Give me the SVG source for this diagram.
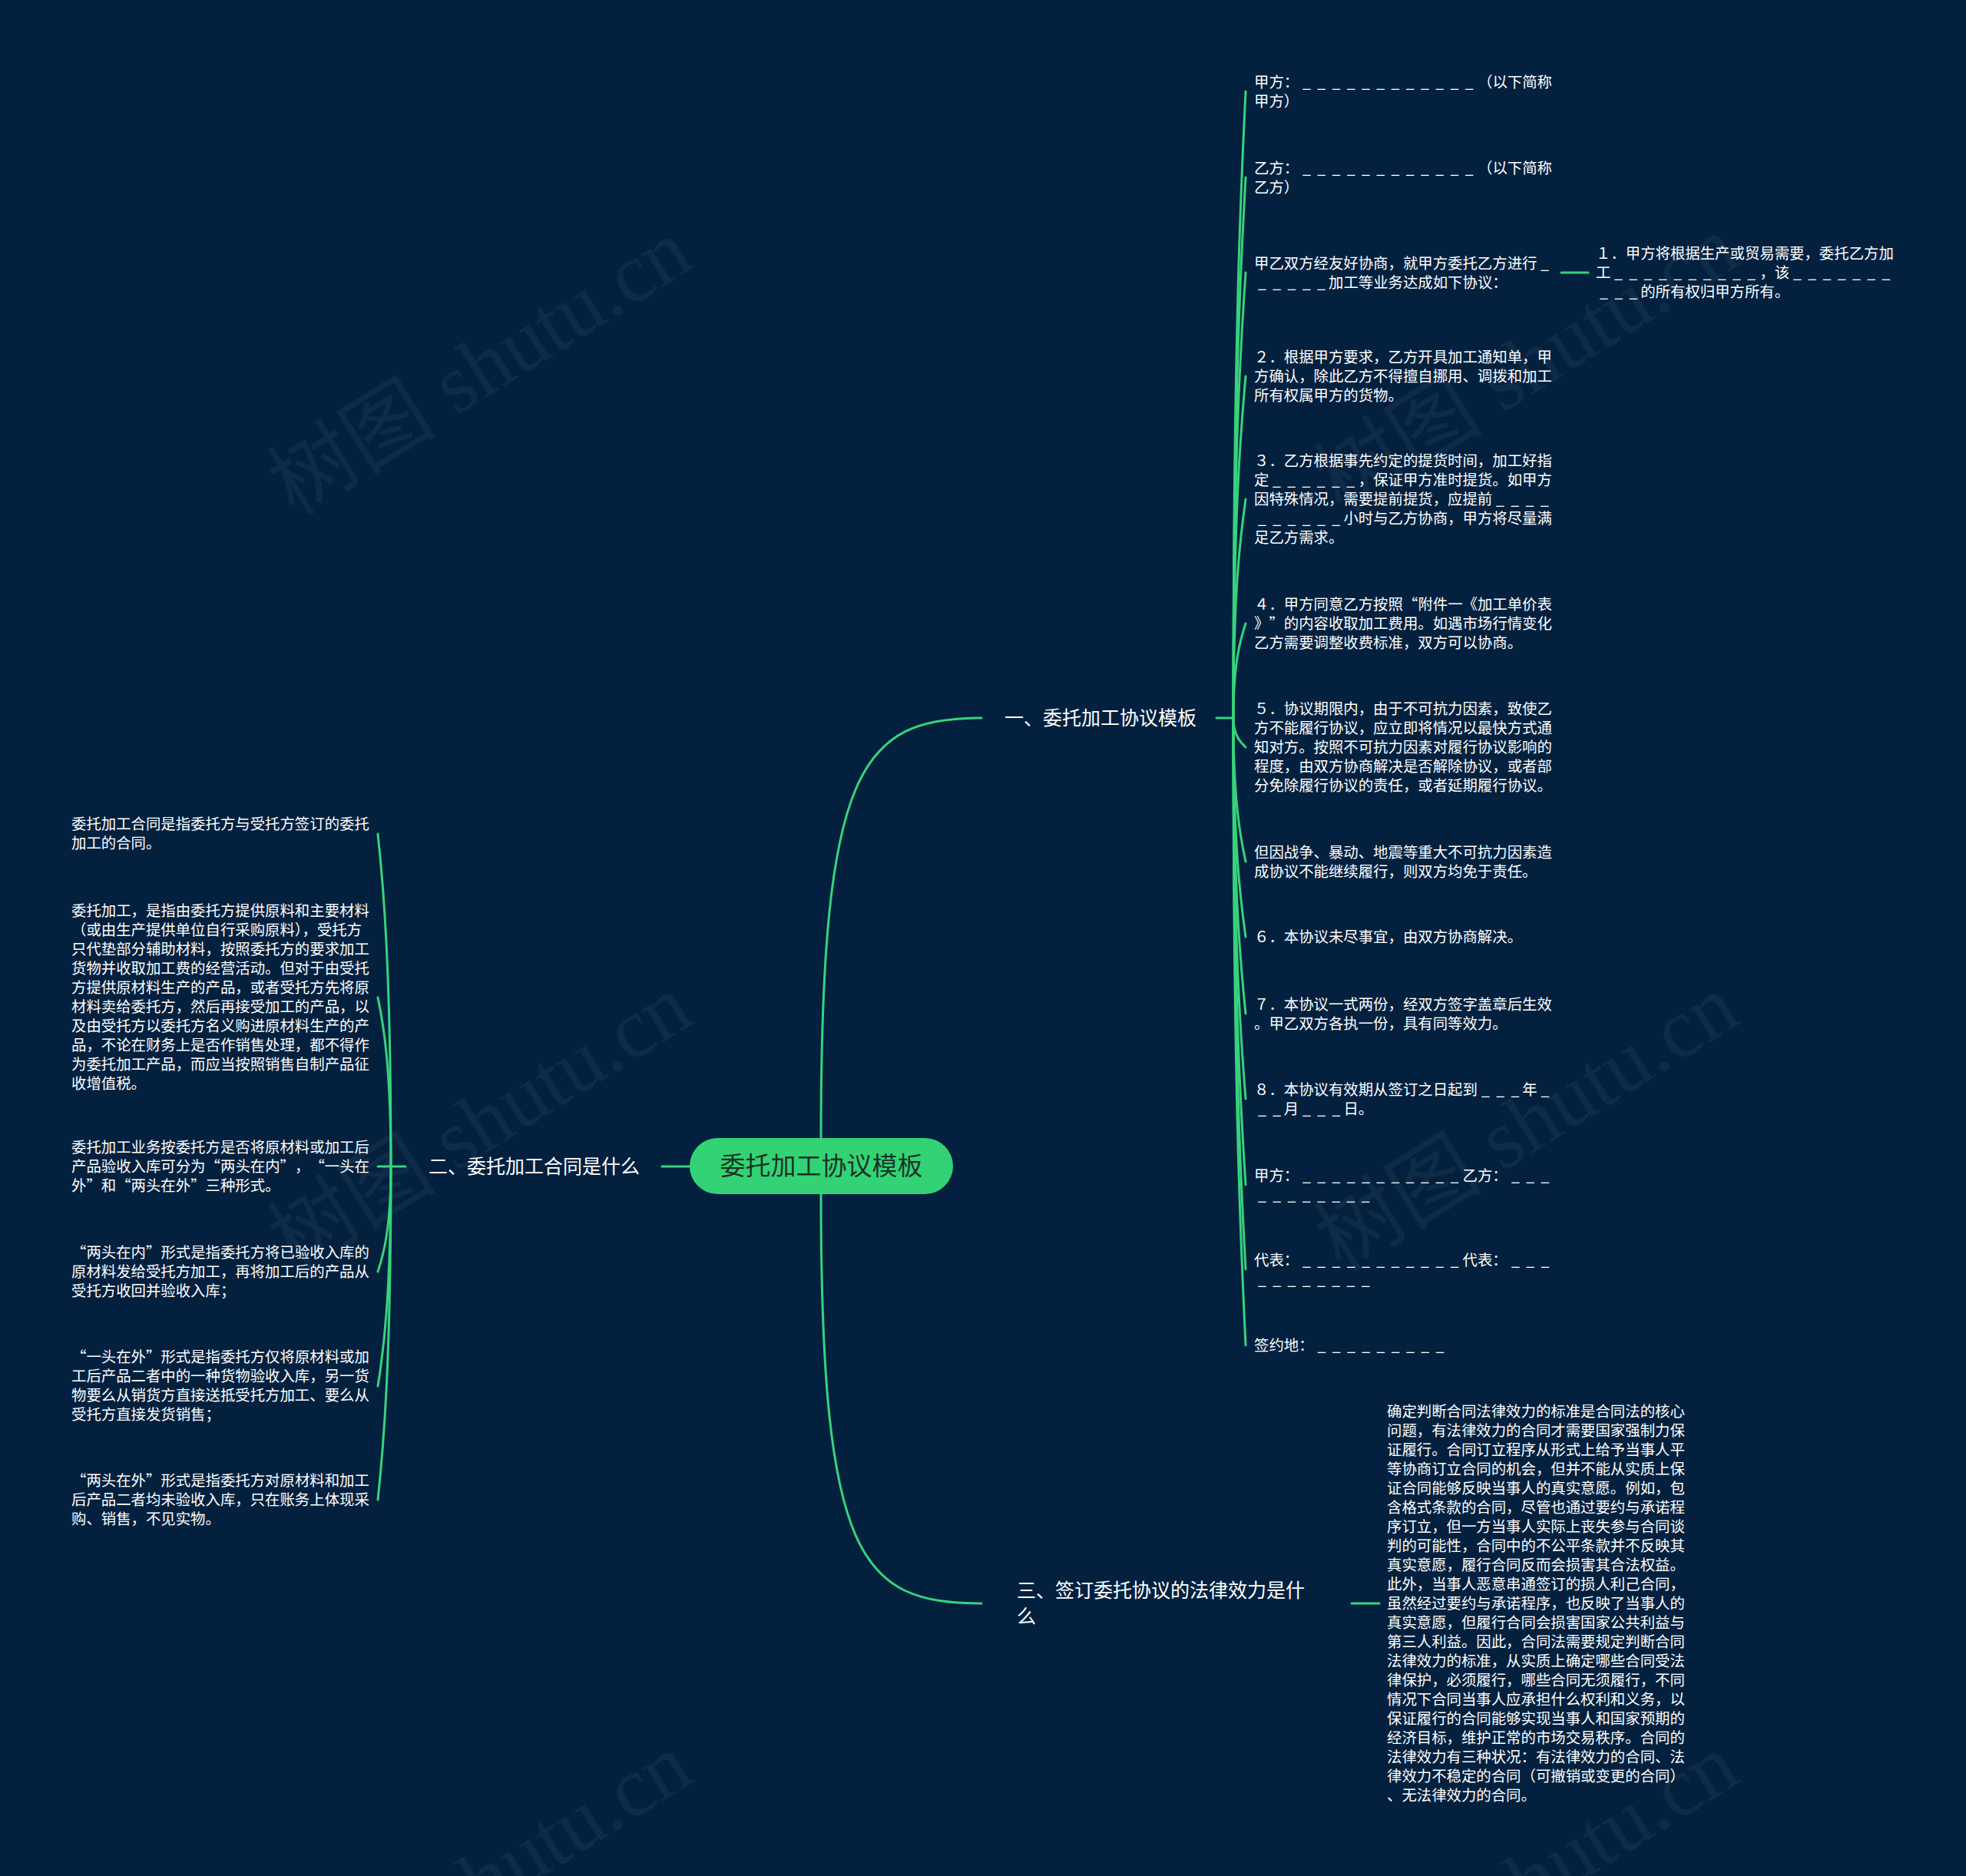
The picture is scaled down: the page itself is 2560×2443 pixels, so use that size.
<svg xmlns="http://www.w3.org/2000/svg" width="2560" height="2443" viewBox="0 0 2560 2443">
<defs>
<style>
.bg{fill:#03213f}
.ln{fill:none;stroke:#38d27c;stroke-width:3;stroke-linecap:round}
.t{font-family:"Noto Sans CJK SC","Noto Sans",sans-serif;font-size:19.4px;fill:#ffffff}
.u{letter-spacing:8.4px}
.b{font-family:"Noto Sans CJK SC","Noto Sans",sans-serif;font-size:25px;fill:#ffffff}
.c{font-family:"Noto Sans CJK SC","Noto Sans",sans-serif;font-size:33px;fill:#1b3326;text-anchor:middle}
.wm{font-family:"Liberation Serif","Noto Sans CJK SC",serif;font-size:110px;fill:#ffffff;opacity:0.045;text-anchor:middle}
</style>
</defs>
<rect class="bg" x="0" y="0" width="2560" height="2443"/>

<g id="watermarks">
<text class="wm" transform="translate(645,510) rotate(-32)">树图 shutu.cn</text>
<text class="wm" transform="translate(2008,506) rotate(-32)">树图 shutu.cn</text>
<text class="wm" transform="translate(645,1494) rotate(-32)">树图 shutu.cn</text>
<text class="wm" transform="translate(2008,1494) rotate(-32)">树图 shutu.cn</text>
<text class="wm" transform="translate(645,2482) rotate(-32)">树图 shutu.cn</text>
<text class="wm" transform="translate(2008,2482) rotate(-32)">树图 shutu.cn</text>
</g>

<g id="connectors">
<path class="ln" d="M1069 1482 C1069 1000 1120 935 1278 935"/>
<path class="ln" d="M1069 1555 C1069 2030 1120 2088 1278 2088"/>
<path class="ln" d="M898 1519 L862 1519"/>
<path class="ln" d="M1584 935 L1606 935"/>
<path class="ln" d="M528 1519 L509 1519"/>
<path class="ln" d="M1760 2088 L1796 2088"/>
<path class="ln" d="M2033 355 L2068 355"/>
<path class="ln" d="M1606 935 C1606 445 1616 241 1622 119"/>
<path class="ln" d="M1606 935 C1606 513 1616 337 1622 231"/>
<path class="ln" d="M1606 935 C1606 587 1616 442 1622 355"/>
<path class="ln" d="M1606 935 C1606 668 1616 557 1622 490"/>
<path class="ln" d="M1606 935 C1606 764 1616 693 1622 650"/>
<path class="ln" d="M1606 935 C1606 861 1616 830 1622 812"/>
<path class="ln" d="M1606 935 C1606 958 1616 967 1622 973"/>
<path class="ln" d="M1606 935 C1606 1047 1616 1094 1622 1122"/>
<path class="ln" d="M1606 935 C1606 1106 1616 1177 1622 1220"/>
<path class="ln" d="M1606 935 C1606 1166 1616 1262 1622 1320"/>
<path class="ln" d="M1606 935 C1606 1233 1616 1357 1622 1431"/>
<path class="ln" d="M1606 935 C1606 1300 1616 1452 1622 1543"/>
<path class="ln" d="M1606 935 C1606 1366 1616 1545 1622 1653"/>
<path class="ln" d="M1606 935 C1606 1425 1616 1629 1622 1752"/>
<path class="ln" d="M509 1519 C509 1259 499 1151 492 1086"/>
<path class="ln" d="M509 1519 C509 1387 499 1332 492 1299"/>
<path class="ln" d="M509 1519 L492 1519"/>
<path class="ln" d="M509 1519 C509 1601 499 1635 492 1656"/>
<path class="ln" d="M509 1519 C509 1690 499 1762 492 1805"/>
<path class="ln" d="M509 1519 C509 1779 499 1888 492 1953"/>
</g>

<g id="root">
<rect x="898" y="1482" width="343" height="73" rx="36.5" fill="#33d375"/>
<text class="c" x="1069.5" y="1530">委托加工协议模板</text>
</g>

<g id="branch1"><text class="b" x="1308" y="944">一、委托加工协议模板</text></g>
<g id="branch2"><text class="b" x="558" y="1528">二、委托加工合同是什么</text></g>
<g id="branch3"><text class="b"><tspan x="1324" y="2080">三、签订委托协议的法律效力是什</tspan><tspan x="1324" y="2114">么</tspan></text></g>

<g id="r1"><text class="t"><tspan x="1633" y="113.5">甲方：</tspan><tspan class="u" x="1696" y="113.5">____________</tspan><tspan x="1924" y="113.5">（以下简称</tspan><tspan x="1633" y="138.5">甲方）</tspan></text></g>
<g id="r2"><text class="t"><tspan x="1633" y="225.5">乙方：</tspan><tspan class="u" x="1696" y="225.5">____________</tspan><tspan x="1924" y="225.5">（以下简称</tspan><tspan x="1633" y="250.5">乙方）</tspan></text></g>
<g id="r3"><text class="t"><tspan x="1633" y="349.5">甲乙双方经友好协商，就甲方委托乙方进行</tspan><tspan class="u" x="2006" y="349.5">_</tspan><tspan class="u" x="1638" y="374.5">_____</tspan><tspan x="1730" y="374.5">加工等业务达成如下协议：</tspan></text></g>
<g id="r3a"><text class="t"><tspan x="2078" y="337">１．甲方将根据生产或贸易需要，委托乙方加</tspan><tspan x="2078" y="362">工</tspan><tspan class="u" x="2102" y="362">__________</tspan><tspan x="2291.4" y="362">，该</tspan><tspan class="u" x="2335" y="362">_______</tspan><tspan class="u" x="2083" y="387">___</tspan><tspan x="2136.2" y="387">的所有权归甲方所有。</tspan></text></g>
<g id="r4"><text class="t"><tspan x="1633" y="472">２．根据甲方要求，乙方开具加工通知单，甲</tspan><tspan x="1633" y="497">方确认，除此乙方不得擅自挪用、调拨和加工</tspan><tspan x="1633" y="522">所有权属甲方的货物。</tspan></text></g>
<g id="r5"><text class="t"><tspan x="1633" y="607">３．乙方根据事先约定的提货时间，加工好指</tspan><tspan x="1633" y="632">定</tspan><tspan class="u" x="1657" y="632">______</tspan><tspan x="1768.8" y="632">，保证甲方准时提货。如甲方</tspan><tspan x="1633" y="657">因特殊情况，需要提前提货，应提前</tspan><tspan class="u" x="1948" y="657">____</tspan><tspan class="u" x="1638" y="682">______</tspan><tspan x="1749.4" y="682">小时与乙方协商，甲方将尽量满</tspan><tspan x="1633" y="707">足乙方需求。</tspan></text></g>
<g id="r6"><text class="t"><tspan x="1633" y="794">４．甲方同意乙方按照</tspan><tspan x="1827" y="794">“</tspan><tspan x="1846.4" y="794">附件一《加工单价表</tspan><tspan x="1633" y="819">》</tspan><tspan x="1652.4" y="819">”</tspan><tspan x="1671.8" y="819">的内容收取加工费用。如遇市场行情变化</tspan><tspan x="1633" y="844">乙方需要调整收费标准，双方可以协商。</tspan></text></g>
<g id="r7"><text class="t"><tspan x="1633" y="930">５．协议期限内，由于不可抗力因素，致使乙</tspan><tspan x="1633" y="955">方不能履行协议，应立即将情况以最快方式通</tspan><tspan x="1633" y="980">知对方。按照不可抗力因素对履行协议影响的</tspan><tspan x="1633" y="1005">程度，由双方协商解决是否解除协议，或者部</tspan><tspan x="1633" y="1030">分免除履行协议的责任，或者延期履行协议。</tspan></text></g>
<g id="r8"><text class="t"><tspan x="1633" y="1116.5">但因战争、暴动、地震等重大不可抗力因素造</tspan><tspan x="1633" y="1141.5">成协议不能继续履行，则双方均免于责任。</tspan></text></g>
<g id="r9"><text class="t" x="1633" y="1227">６．本协议未尽事宜，由双方协商解决。</text></g>
<g id="r10"><text class="t"><tspan x="1633" y="1314.5">７．本协议一式两份，经双方签字盖章后生效</tspan><tspan x="1633" y="1339.5">。甲乙双方各执一份，具有同等效力。</tspan></text></g>
<g id="r11"><text class="t"><tspan x="1633" y="1425.5">８．本协议有效期从签订之日起到</tspan><tspan class="u" x="1929" y="1425.5">___</tspan><tspan x="1982.2" y="1425.5">年</tspan><tspan class="u" x="2006.6" y="1425.5">_</tspan><tspan class="u" x="1638" y="1450.5">__</tspan><tspan x="1671.8" y="1450.5">月</tspan><tspan class="u" x="1696" y="1450.5">___</tspan><tspan x="1749.4" y="1450.5">日。</tspan></text></g>
<g id="r12"><text class="t"><tspan x="1633" y="1537.5">甲方：</tspan><tspan class="u" x="1696" y="1537.5">___________</tspan><tspan x="1904.6" y="1537.5">乙方：</tspan><tspan class="u" x="1968" y="1537.5">___</tspan><tspan class="u" x="1638" y="1562.5">________</tspan></text></g>
<g id="r13"><text class="t"><tspan x="1633" y="1647.5">代表：</tspan><tspan class="u" x="1696" y="1647.5">___________</tspan><tspan x="1904.6" y="1647.5">代表：</tspan><tspan class="u" x="1968" y="1647.5">___</tspan><tspan class="u" x="1638" y="1672.5">________</tspan></text></g>
<g id="r14"><text class="t"><tspan x="1633" y="1759">签约地：</tspan><tspan class="u" x="1715.6" y="1759">_________</tspan></text></g>

<g id="l1"><text class="t"><tspan x="93" y="1080">委托加工合同是指委托方与受托方签订的委托</tspan><tspan x="93" y="1105">加工的合同。</tspan></text></g>
<g id="l2"><text class="t"><tspan x="93" y="1193">委托加工，是指由委托方提供原料和主要材料</tspan><tspan x="93" y="1218">（或由生产提供单位自行采购原料），受托方</tspan><tspan x="93" y="1243">只代垫部分辅助材料，按照委托方的要求加工</tspan><tspan x="93" y="1268">货物并收取加工费的经营活动。但对于由受托</tspan><tspan x="93" y="1293">方提供原材料生产的产品，或者受托方先将原</tspan><tspan x="93" y="1318">材料卖给委托方，然后再接受加工的产品，以</tspan><tspan x="93" y="1343">及由受托方以委托方名义购进原材料生产的产</tspan><tspan x="93" y="1368">品，不论在财务上是否作销售处理，都不得作</tspan><tspan x="93" y="1393">为委托加工产品，而应当按照销售自制产品征</tspan><tspan x="93" y="1418">收增值税。</tspan></text></g>
<g id="l3"><text class="t"><tspan x="93" y="1501">委托加工业务按委托方是否将原材料或加工后</tspan><tspan x="93" y="1526">产品验收入库可分为</tspan><tspan x="267.6" y="1526">“</tspan><tspan x="287" y="1526">两头在内</tspan><tspan x="364.6" y="1526">”</tspan><tspan x="384" y="1526">，</tspan><tspan x="403.4" y="1526">“</tspan><tspan x="422.8" y="1526">一头在</tspan><tspan x="93" y="1551">外</tspan><tspan x="112.4" y="1551">”</tspan><tspan x="131.8" y="1551">和</tspan><tspan x="151.2" y="1551">“</tspan><tspan x="170.6" y="1551">两头在外</tspan><tspan x="248.2" y="1551">”</tspan><tspan x="267.6" y="1551">三种形式。</tspan></text></g>
<g id="l4"><text class="t"><tspan x="93" y="1638">“</tspan><tspan x="112.4" y="1638">两头在内</tspan><tspan x="190" y="1638">”</tspan><tspan x="209.4" y="1638">形式是指委托方将已验收入库的</tspan><tspan x="93" y="1663">原材料发给受托方加工，再将加工后的产品从</tspan><tspan x="93" y="1688">受托方收回并验收入库；</tspan></text></g>
<g id="l5"><text class="t"><tspan x="93" y="1774">“</tspan><tspan x="112.4" y="1774">一头在外</tspan><tspan x="190" y="1774">”</tspan><tspan x="209.4" y="1774">形式是指委托方仅将原材料或加</tspan><tspan x="93" y="1799">工后产品二者中的一种货物验收入库，另一货</tspan><tspan x="93" y="1824">物要么从销货方直接送抵受托方加工、要么从</tspan><tspan x="93" y="1849">受托方直接发货销售；</tspan></text></g>
<g id="l6"><text class="t"><tspan x="93" y="1935">“</tspan><tspan x="112.4" y="1935">两头在外</tspan><tspan x="190" y="1935">”</tspan><tspan x="209.4" y="1935">形式是指委托方对原材料和加工</tspan><tspan x="93" y="1960">后产品二者均未验收入库，只在账务上体现采</tspan><tspan x="93" y="1985">购、销售，不见实物。</tspan></text></g>

<g id="b3text"><text class="t"><tspan x="1806" y="1845">确定判断合同法律效力的标准是合同法的核心</tspan><tspan x="1806" y="1870">问题，有法律效力的合同才需要国家强制力保</tspan><tspan x="1806" y="1895">证履行。合同订立程序从形式上给予当事人平</tspan><tspan x="1806" y="1920">等协商订立合同的机会，但并不能从实质上保</tspan><tspan x="1806" y="1945">证合同能够反映当事人的真实意愿。例如，包</tspan><tspan x="1806" y="1970">含格式条款的合同，尽管也通过要约与承诺程</tspan><tspan x="1806" y="1995">序订立，但一方当事人实际上丧失参与合同谈</tspan><tspan x="1806" y="2020">判的可能性，合同中的不公平条款并不反映其</tspan><tspan x="1806" y="2045">真实意愿，履行合同反而会损害其合法权益。</tspan><tspan x="1806" y="2070">此外，当事人恶意串通签订的损人利己合同，</tspan><tspan x="1806" y="2095">虽然经过要约与承诺程序，也反映了当事人的</tspan><tspan x="1806" y="2120">真实意愿，但履行合同会损害国家公共利益与</tspan><tspan x="1806" y="2145">第三人利益。因此，合同法需要规定判断合同</tspan><tspan x="1806" y="2170">法律效力的标准，从实质上确定哪些合同受法</tspan><tspan x="1806" y="2195">律保护，必须履行，哪些合同无须履行，不同</tspan><tspan x="1806" y="2220">情况下合同当事人应承担什么权利和义务，以</tspan><tspan x="1806" y="2245">保证履行的合同能够实现当事人和国家预期的</tspan><tspan x="1806" y="2270">经济目标，维护正常的市场交易秩序。合同的</tspan><tspan x="1806" y="2295">法律效力有三种状况：有法律效力的合同、法</tspan><tspan x="1806" y="2320">律效力不稳定的合同（可撤销或变更的合同）</tspan><tspan x="1806" y="2345">、无法律效力的合同。</tspan></text></g>
</svg>
